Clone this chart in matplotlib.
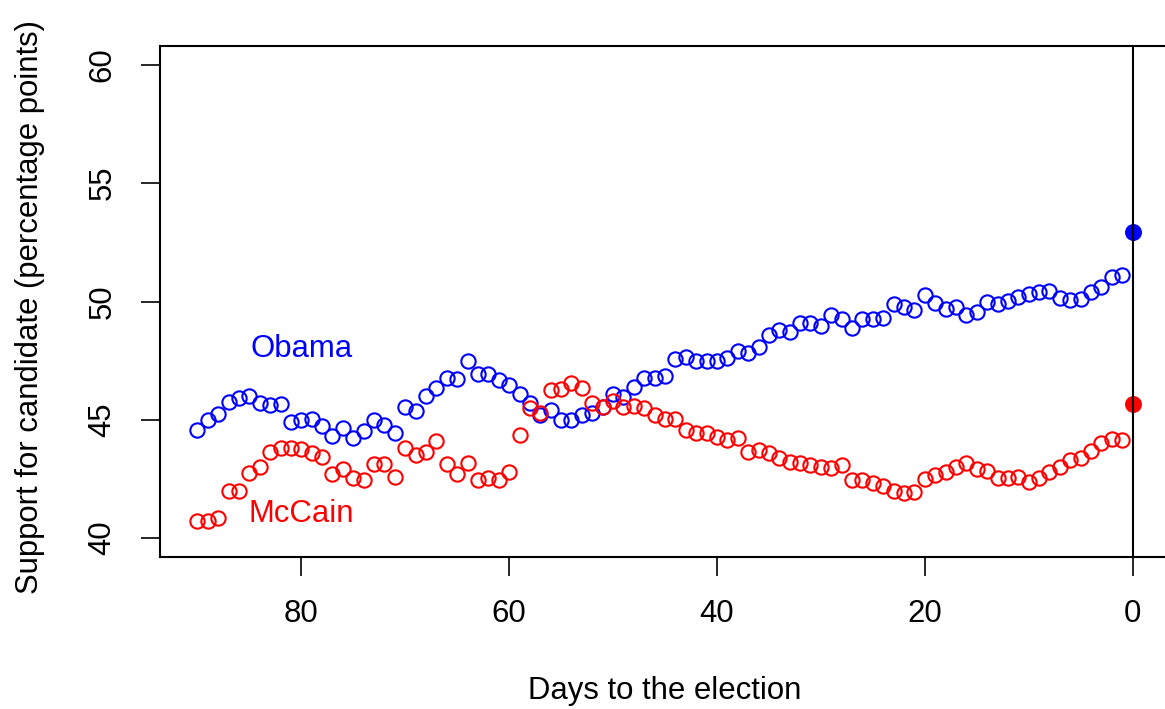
import numpy as np
import matplotlib.pyplot as plt

plt.rcParams["font.family"] = ["Liberation Sans", "DejaVu Sans"]

# daily poll averages, from 90 days out to 1 day before the election
days = list(range(90, 0, -1))

obama = [
    44.57, 44.99, 45.24, 45.75, 45.92, 46.00, 45.71, 45.62, 45.67, 44.90,
    44.99, 45.03, 44.74, 44.31, 44.65, 44.23, 44.52, 44.99, 44.78, 44.44,
    45.54, 45.37, 46.00, 46.34, 46.77, 46.72, 47.48, 46.93, 46.93, 46.68,
    46.47, 46.09, 45.71, 45.20, 45.41, 44.99, 44.99, 45.20, 45.29, 45.54,
    46.09, 45.96, 46.38, 46.77, 46.77, 46.85, 47.57, 47.65, 47.48, 47.48,
    47.48, 47.61, 47.91, 47.82, 48.08, 48.58, 48.80, 48.71, 49.09, 49.09,
    48.96, 49.43, 49.26, 48.88, 49.26, 49.26, 49.30, 49.89, 49.77, 49.64,
    50.27, 49.94, 49.68, 49.77, 49.43, 49.56, 49.98, 49.89, 50.02, 50.19,
    50.32, 50.40, 50.44, 50.15, 50.06, 50.11, 50.40, 50.61, 51.04, 51.12,
]

mccain = [
    40.72, 40.72, 40.85, 41.99, 41.99, 42.75, 43.00, 43.64, 43.81, 43.81,
    43.76, 43.59, 43.42, 42.71, 42.92, 42.54, 42.45, 43.13, 43.13, 42.58,
    43.81, 43.51, 43.64, 44.10, 43.13, 42.71, 43.17, 42.45, 42.54, 42.45,
    42.79, 44.36, 45.50, 45.29, 46.26, 46.30, 46.55, 46.34, 45.71, 45.54,
    45.79, 45.54, 45.58, 45.50, 45.20, 45.03, 45.03, 44.57, 44.44, 44.44,
    44.27, 44.14, 44.23, 43.64, 43.72, 43.59, 43.38, 43.21, 43.17, 43.09,
    43.00, 42.96, 43.09, 42.45, 42.45, 42.33, 42.20, 41.99, 41.90, 41.95,
    42.49, 42.66, 42.79, 43.00, 43.17, 42.92, 42.83, 42.54, 42.54, 42.58,
    42.37, 42.54, 42.79, 43.00, 43.30, 43.38, 43.68, 44.02, 44.19, 44.14,
]

# actual vote share on election day
result_obama = 52.94
result_mccain = 45.67

x_ticks = [80, 60, 40, 20, 0]
y_ticks = [40, 45, 50, 55, 60]

fs = 22.4

fig = plt.figure(figsize=(11.65, 7.09), dpi=100)
ax = fig.add_axes([160 / 1165, 152 / 709, 1010 / 1165, 511 / 709])

ax.plot(days, obama, "o", ms=10.3, mfc="none", mec="blue", mew=1.5)
ax.plot(days, mccain, "o", ms=10.3, mfc="none", mec="red", mew=1.5)
ax.plot([0], [result_obama], "o", ms=11, color="blue", mew=1.2)
ax.plot([0], [result_mccain], "o", ms=11, color="red", mew=1.2)
ax.axvline(0, color="black", lw=1.5)

ax.text(80, 48, "Obama", color="blue", fontsize=fs, ha="center", va="center")
ax.text(80, 41, "McCain", color="red", fontsize=fs, ha="center", va="center")

ax.set_xlim(93.6, -3.6)
ax.set_ylim(39.2, 60.8)
ax.set_xticks(x_ticks)
ax.set_yticks(y_ticks)
ax.set_yticklabels([str(v) for v in y_ticks], rotation=90, va="center")
ax.tick_params(axis="both", length=13.5, width=1.2, labelsize=fs, pad=17)

for sp in ax.spines.values():
    sp.set_linewidth(1.5)

fig.text(30 / 1165, 1 - 307 / 709, "Support for candidate (percentage points)",
         rotation=90, fontsize=fs, ha="center", va="center")
fig.text(665 / 1165, 1 - 691 / 709, "Days to the election",
         fontsize=fs, ha="center", va="center")

fig.savefig("out.png", dpi=100)
